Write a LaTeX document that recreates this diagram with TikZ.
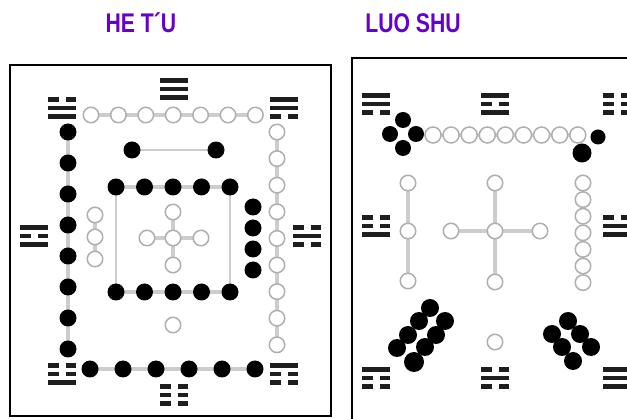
\documentclass[tikz,border=0pt]{standalone}
\usepackage{fontspec}
\newfontfamily\titlefont{Liberation Sans}
\usetikzlibrary{positioning}
\usetikzlibrary{backgrounds}
\definecolor{titlepurple}{RGB}{102,0,204}
\definecolor{ringgrey}{RGB}{175,175,175}
\definecolor{linkgrey}{RGB}{205,205,205}
\definecolor{barblack}{RGB}{30,30,30}
\tikzset{yin/.style = {circle, fill=black, inner sep=0pt, minimum size=#1},
         yin/.default = 17pt,
         yang/.style = {circle, draw=ringgrey, fill=white, line width=1.5pt,
                        inner sep=0pt, minimum size=#1},
         yang/.default = 15.5pt,
         link/.style = {draw=linkgrey, line width=3.5pt},
         thinlink/.style = {draw=linkgrey, line width=2pt},
         frame/.style = {draw=black, line width=2.2pt},
         title/.style = {text=titlepurple,
                         font=\titlefont\bfseries\fontsize{27}{27}\selectfont}}
% trigram: x, y of the middle bar, bars from top (1 = whole, 0 = broken)
\newcommand{\trigram}[3]{%
  \foreach \l [count=\i] in {#3}{%
    \pgfmathsetmacro{\by}{#2+(\i-2)*8.5}%
    \ifnum\l=1
      \fill[barblack] (#1-14,\by-2.2) rectangle (#1+14,\by+2.2);
    \else
      \fill[barblack] (#1-14,\by-2.2) rectangle (#1-3.5,\by+2.2);
      \fill[barblack] (#1+3.5,\by-2.2) rectangle (#1+14,\by+2.2);
    \fi}}

\begin{document}
\begin{tikzpicture}[x=1pt, y=-1pt]
  \useasboundingbox (0,0) rectangle (627,419);

  % titles
  \node[title] (hetu) at (141,23) {\scalebox{0.785}[1]{HE T´U}};
  \node[title] (luoshu) at (413,23) {\scalebox{0.785}[1]{LUO SHU}};

  % ---------------- He Tu ----------------
  \draw[frame] (10,65) rectangle (331,416);

  \trigram{174}{89}{1,1,1}
  \trigram{62}{108}{0,1,1}
  \trigram{284}{108}{1,1,0}
  \trigram{34}{236}{1,0,1}
  \trigram{307}{236}{0,1,0}
  \trigram{62}{374}{0,0,1}
  \trigram{284}{374}{1,0,0}
  \trigram{174}{395}{0,0,0}

  \foreach \i in {1,...,7}
    \node[yang] (n\i) at ({91+(\i-1)*27.4},115) {};
  \foreach \i in {1,...,8}
    \node[yin] (w\i) at (68,{132+(\i-1)*31}) {};
  \foreach \i in {1,...,6}
    \node[yin] (s\i) at ({90+(\i-1)*33},369) {};
  \foreach \i in {1,...,9}
    \node[yang] (e\i) at (277,{132+(\i-1)*26.6}) {};
  \foreach \i in {1,...,3}
    \node[yang] (iw\i) at (95,{215+(\i-1)*22}) {};
  \foreach \i in {1,...,4}
    \node[yin] (ie\i) at (253,{207+(\i-1)*21}) {};
  \foreach \i in {1,...,5} {
    \node[yin] (qt\i) at ({116+(\i-1)*28.5},187) {};
    \node[yin] (qb\i) at ({116+(\i-1)*28.5},292) {};
  }
  \node[yin] (pa) at (132,150) {};
  \node[yin] (pb) at (216,150) {};
  \node[yang] (hc) at (173,238) {};
  \node[yang] (hn) at (173,212) {};
  \node[yang] (hs) at (173,265) {};
  \node[yang] (hw) at (147,238) {};
  \node[yang] (he) at (201,238) {};
  \node[yang] (hz) at (173,325) {};

  \begin{scope}[on background layer]
    \draw[link] (n1.center) -- (n7.center);
    \draw[link] (w1.center) -- (w8.center);
    \draw[link] (s1.center) -- (s6.center);
    \draw[link] (e1.center) -- (e9.center);
    \draw[link] (iw1.center) -- (iw3.center);
    \draw[link] (qt1.center) -- (qt5.center);
    \draw[link] (qb1.center) -- (qb5.center);
    \draw[thinlink] (qt1.center) -- (qb1.center);
    \draw[thinlink] (qt5.center) -- (qb5.center);
    \draw[thinlink] (pa.center) -- (pb.center);
    \draw[link] (hn.center) -- (hs.center);
    \draw[link] (hw.center) -- (he.center);
  \end{scope}

  % ---------------- Luo Shu ----------------
  \draw[frame] (352,58) rectangle (660,450);

  \trigram{376}{104}{1,1,0}
  \trigram{495}{104}{1,0,1}
  \trigram{617}{104}{0,0,0}
  \trigram{376}{226}{0,0,1}
  \trigram{617}{226}{0,1,1}
  \trigram{376}{378}{1,0,0}
  \trigram{495}{378}{0,1,0}
  \trigram{617}{378}{1,1,1}

  \node[yin=16pt] (f1) at (403,120) {};
  \node[yin=16pt] (f2) at (390,134) {};
  \node[yin=16pt] (f3) at (416,134) {};
  \node[yin=16pt] (f4) at (403,148) {};
  \foreach \i in {1,...,9}
    \node[yang=16pt] (r\i) at ({433+(\i-1)*18.1},135) {};
  \node[yin=15pt] (d1) at (598,137) {};
  \node[yin=19pt] (d2) at (582,153) {};
  \node[yang] (lv1) at (408,183) {};
  \node[yang] (lv2) at (408,231) {};
  \node[yang] (lv3) at (408,281) {};
  \node[yang] (lc) at (495,231) {};
  \node[yang] (ln) at (495,183) {};
  \node[yang] (ls) at (495,282) {};
  \node[yang] (lw) at (451,231) {};
  \node[yang] (le) at (540,231) {};
  \foreach \i in {1,...,7}
    \node[yang=15.5pt] (c\i) at (583,{183+(\i-1)*16.6}) {};
  \node[yang] (lz) at (495,342) {};
  % eight in the lower left
  \foreach \p [count=\i] in {(430,308),(419,321),(408,335),(397,348),
                             (445,321),(436,335),(425,347)}
    \node[yin=18pt] (g\i) at \p {};
  \node[yin=20pt] (g8) at (414,362) {};
  % six in the lower right
  \foreach \p [count=\i] in {(568,321),(552,334),(580,334),
                             (562,347),(591,347),(573,361)}
    \node[yin=18pt] (k\i) at \p {};

  \begin{scope}[on background layer]
    \draw[link] (r1.center) -- (r9.center);
    \draw[link] (lv1.center) -- (lv3.center);
    \draw[link] (ln.center) -- (ls.center);
    \draw[link] (lw.center) -- (le.center);
  \end{scope}
\end{tikzpicture}
\end{document}
